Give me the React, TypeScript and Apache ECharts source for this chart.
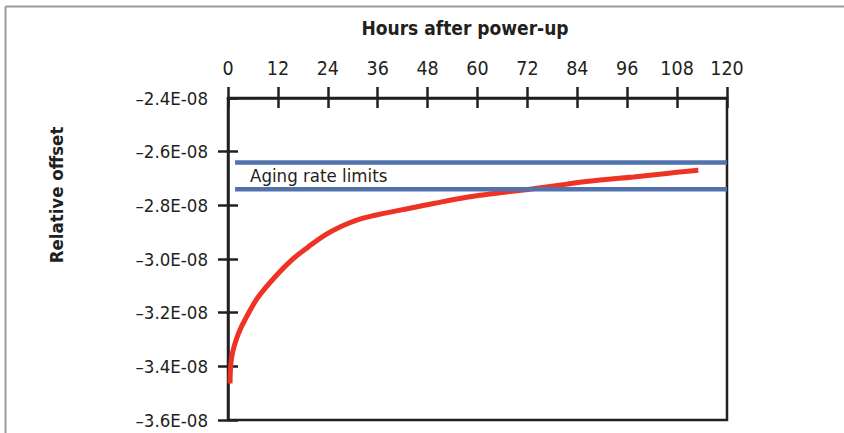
import React, { useEffect, useRef } from "react";
import * as echarts from "echarts";

// Hours after power-up (x) and relative offset in units of 1E-08 (y)
const hours = [0.5, 0.9, 2.5, 4.9, 7.3, 11.3, 15.3, 19.3, 23.3, 27.3, 31.3, 35.4, 41.4, 49.4, 57.4, 65.4, 73.4, 81.5, 89.5, 97.5, 105.5, 113.1];
const offsets = [-3.464, -3.365, -3.278, -3.203, -3.141, -3.067, -3.004, -2.955, -2.911, -2.878, -2.853, -2.837, -2.818, -2.793, -2.77, -2.753, -2.738, -2.721, -2.706, -2.694, -2.681, -2.669];

// Aging rate limits (units of 1E-08) and the hour span they are drawn over
const agingLimits = [-2.64, -2.74];
const limitSpan = [1.7, 120];

const xTicks = { min: 0, max: 120, interval: 12 };
const yTicks = { min: -3.6, max: -2.4, interval: 0.2 };
const yOuterTickValues = [-3.6, -3.4, -3.2, -3.0, -2.8, -2.6];

const FONT = "'Liberation Sans Narrow', 'DejaVu Sans Condensed', 'Liberation Sans', sans-serif";
const INK = "#231f20";

export default function App() {
  const ref = useRef<HTMLDivElement>(null);

  useEffect(() => {
    if (!ref.current) return;
    const chart = echarts.init(ref.current, null, { renderer: "svg" });

    const axisLine = { show: true, lineStyle: { color: INK, width: 2.5 } };
    const tickStyle = { color: INK, width: 2.5 };

    const baseX = {
      type: "value" as const,
      position: "top" as const,
      min: xTicks.min,
      max: xTicks.max,
      interval: xTicks.interval,
      splitLine: { show: false },
    };
    const baseY = {
      type: "value" as const,
      position: "left" as const,
      min: yTicks.min,
      max: yTicks.max,
      interval: yTicks.interval,
      splitLine: { show: false },
    };

    chart.setOption({
      animation: false,
      backgroundColor: "#ffffff",
      grid: {
        left: 228,
        top: 98,
        width: 499,
        height: 322,
        show: true,
        borderColor: INK,
        borderWidth: 2.5,
        backgroundColor: "transparent",
      },
      xAxis: [
        {
          ...baseX,
          axisLine,
          axisTick: { show: true, inside: false, length: 11, lineStyle: tickStyle },
          axisLabel: { show: true, margin: 20, fontSize: 19.5, color: INK, fontFamily: FONT },
        },
        {
          ...baseX,
          axisLine: { show: false },
          axisTick: { show: true, inside: true, length: 10, lineStyle: tickStyle },
          axisLabel: { show: false },
        },
      ],
      yAxis: [
        {
          ...baseY,
          axisLine,
          axisTick: { show: true, inside: false, length: 10, lineStyle: tickStyle, customValues: yOuterTickValues },
          axisLabel: {
            show: true,
            margin: 20,
            fontSize: 18.5,
            color: INK,
            fontFamily: FONT,
            formatter: (v: number) => "\u2013" + Math.abs(v).toFixed(1) + "E-08",
          },
        },
        {
          ...baseY,
          axisLine: { show: false },
          axisTick: { show: true, inside: true, length: 10, lineStyle: tickStyle },
          axisLabel: { show: false },
        },
      ],
      graphic: [
        { type: "line", shape: { x1: 5.5, y1: 6.5, x2: 844, y2: 6.5 }, style: { stroke: "#9b9b9b", lineWidth: 2 } },
        { type: "line", shape: { x1: 5.5, y1: 6.5, x2: 5.5, y2: 433 }, style: { stroke: "#9b9b9b", lineWidth: 2 } },
        {
          type: "text",
          x: 465,
          y: 28,
          style: { text: "Hours after power-up", fontSize: 19, fontWeight: "bold", fill: INK, fontFamily: FONT, align: "center", verticalAlign: "middle" },
        },
        {
          type: "text",
          x: 56,
          y: 195,
          rotation: Math.PI / 2,
          style: { text: "Relative offset", fontSize: 18.5, fontWeight: "bold", fill: INK, fontFamily: FONT, align: "center", verticalAlign: "middle" },
        },
        {
          type: "text",
          x: 250,
          y: 175,
          style: { text: "Aging rate limits", fontSize: 18.5, fill: INK, fontFamily: FONT, align: "left", verticalAlign: "middle" },
        },
      ],
      series: [
        {
          type: "line",
          xAxisIndex: 0,
          yAxisIndex: 0,
          data: hours.map((h, i) => [h, offsets[i]]),
          smooth: 0.4,
          showSymbol: false,
          lineStyle: { color: "#ee3224", width: 5 },
          z: 3,
        },
        ...agingLimits.map((l) => ({
          type: "line",
          xAxisIndex: 0,
          yAxisIndex: 0,
          data: limitSpan.map((h) => [h, l]),
          showSymbol: false,
          lineStyle: { color: "#5272ae", width: 4.5 },
          z: 4,
        })),
      ],
    });

    return () => chart.dispose();
  }, []);

  return (
    <div
      ref={ref}
      style={{ position: "fixed", left: 0, top: 0, width: 844, height: 433, background: "#fff" }}
    />
  );
}
